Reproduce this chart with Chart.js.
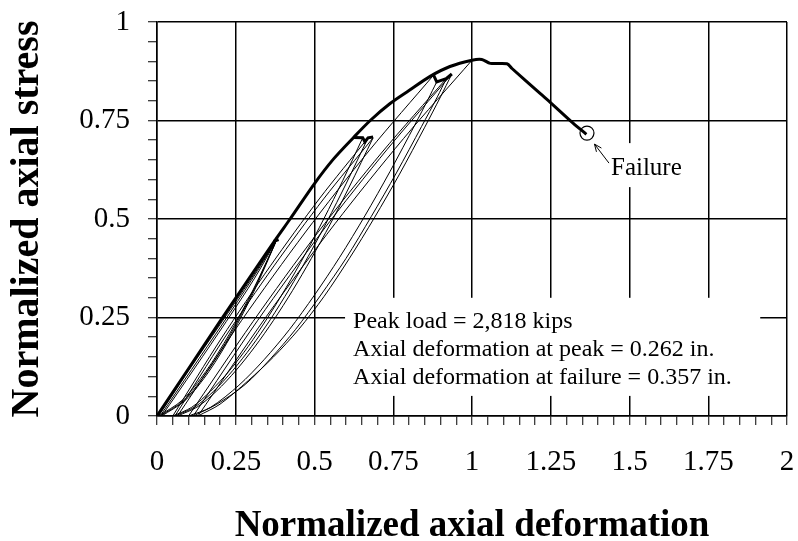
<!DOCTYPE html>
<html>
<head>
<meta charset="utf-8">
<script src="https://cdn.jsdelivr.net/npm/chart.js@4.4.1/dist/chart.umd.min.js"></script>
<style>
  html, body { margin: 0; padding: 0; background: #fff; }
  canvas { display: block; }
</style>
</head>
<body>
<canvas id="chart" width="798" height="541"></canvas>
<script>
// tick labels
const xTickLabels = ["0", "0.25", "0.5", "0.75", "1", "1.25", "1.5", "1.75", "2"];
const yTickLabels = ["0", "0.25", "0.5", "0.75", "1"];

// monotonic envelope (thick line), [deformation, stress]
const envelope = [
  [0, 0], [0.1, 0.12], [0.2, 0.24], [0.3, 0.358], [0.38, 0.452], [0.4225, 0.5],
  [0.5, 0.59], [0.56, 0.652], [0.624, 0.707], [0.677, 0.75], [0.74, 0.793],
  [0.8, 0.826], [0.867, 0.862], [0.93, 0.887], [1.0, 0.903], [1.031, 0.905],
  [1.058, 0.895], [1.111, 0.894], [1.127, 0.882], [1.217, 0.818], [1.25, 0.795],
  [1.32, 0.744], [1.363, 0.715]
];

// small jogs at the unloading points
const notchA = [[0.37, 0.443], [0.386, 0.448]];
const notchB = [[0.624, 0.707], [0.653, 0.706], [0.66, 0.696], [0.67, 0.706], [0.686, 0.708]];
const notchC = [[0.878, 0.865], [0.888, 0.848], [0.918, 0.856], [0.936, 0.868]];

// cycles at about 0.45
const unloadA1 = [[0.38, 0.447], [0.305, 0.32], [0.23, 0.208], [0.155, 0.113], [0.08, 0.04], [0.005, 0]];
const reloadA1 = [[0.005, 0], [0.1, 0.115], [0.2, 0.232], [0.3, 0.35], [0.38, 0.447]];
const unloadA2 = [[0.38, 0.447], [0.307, 0.32], [0.234, 0.208], [0.16, 0.113], [0.086, 0.04], [0.01, 0]];
const reloadA2 = [[0.01, 0], [0.11, 0.118], [0.21, 0.236], [0.3, 0.345], [0.38, 0.447]];
const unloadA3 = [[0.38, 0.447], [0.31, 0.32], [0.238, 0.208], [0.165, 0.113], [0.09, 0.04], [0.015, 0]];
const reloadA3 = [[0.015, 0], [0.12, 0.122], [0.22, 0.24], [0.31, 0.35], [0.38, 0.447]];

// cycles at about 0.70
const unloadB1 = [[0.653, 0.706], [0.59, 0.598], [0.53, 0.501], [0.47, 0.41], [0.41, 0.326], [0.35, 0.248],
  [0.29, 0.177], [0.23, 0.115], [0.17, 0.063], [0.11, 0.022], [0.05, 0]];
const reloadB1 = [[0.05, 0], [0.205, 0.198], [0.36, 0.381], [0.515, 0.551], [0.67, 0.706]];
const unloadB2 = [[0.67, 0.706], [0.6, 0.589], [0.54, 0.494], [0.48, 0.405], [0.42, 0.322], [0.36, 0.245],
  [0.3, 0.176], [0.24, 0.115], [0.18, 0.063], [0.12, 0.023], [0.057, 0]];
const reloadB2 = [[0.057, 0], [0.214, 0.198], [0.3715, 0.381], [0.529, 0.551], [0.686, 0.706]];
const unloadB3 = [[0.686, 0.706], [0.61, 0.581], [0.55, 0.487], [0.49, 0.4], [0.43, 0.318], [0.37, 0.243],
  [0.31, 0.175], [0.25, 0.115], [0.19, 0.064], [0.13, 0.024], [0.065, 0]];
const reloadB3 = [[0.065, 0], [0.268, 0.242], [0.4715, 0.467], [0.675, 0.675], [0.878, 0.865]];

// cycles at about 0.87
const unloadC1 = [[0.888, 0.848], [0.86, 0.803], [0.82, 0.741], [0.74, 0.621], [0.66, 0.508], [0.58, 0.403],
  [0.5, 0.307], [0.42, 0.219], [0.34, 0.143], [0.26, 0.078], [0.17, 0.022], [0.1, 0]];
const reloadC1 = [[0.1, 0], [0.305, 0.24], [0.51, 0.465], [0.715, 0.67], [0.918, 0.856]];
const unloadC2 = [[0.918, 0.856], [0.89, 0.81], [0.84, 0.735], [0.76, 0.617], [0.68, 0.506], [0.6, 0.4],
  [0.52, 0.307], [0.44, 0.22], [0.36, 0.145], [0.28, 0.08], [0.19, 0.03], [0.115, 0]];
const reloadC2 = [[0.115, 0], [0.32, 0.243], [0.525, 0.469], [0.731, 0.677], [0.936, 0.868]];
const unloadC3 = [[0.936, 0.868], [0.9, 0.81], [0.85, 0.733], [0.77, 0.614], [0.69, 0.503], [0.61, 0.399],
  [0.53, 0.303], [0.45, 0.22], [0.37, 0.15], [0.29, 0.09], [0.2, 0.03], [0.13, 0]];
const reloadC3 = [[0.13, 0], [0.3475, 0.253], [0.565, 0.488], [0.7825, 0.704], [1.0, 0.903]];

const failurePoint = [[1.365, 0.718]];

const noteLines = [
  "Peak load = 2,818 kips",
  "Axial deformation at peak = 0.262 in.",
  "Axial deformation at failure = 0.357 in."
];

const SERIF = "'Liberation Serif', 'Times New Roman', serif";

const toXY = arr => arr.map(p => ({ x: p[0], y: p[1] }));
const isMajor = v => Math.abs(v / 0.25 - Math.round(v / 0.25)) < 1e-6;

const thinCycles = [
  unloadA1, reloadA1, unloadA2, reloadA2, unloadA3, reloadA3,
  unloadB1, reloadB1, unloadB2, reloadB2, unloadB3, reloadB3,
  unloadC1, reloadC1, unloadC2, reloadC2, unloadC3, reloadC3
];

const datasets = thinCycles.map(c => ({
  data: toXY(c), showLine: true, borderColor: "#000", borderWidth: 1,
  pointRadius: 0, tension: 0.3, fill: false
}));
datasets.push({ data: toXY(envelope), showLine: true, borderColor: "#000", borderWidth: 3,
  pointRadius: 0, tension: 0.3, fill: false });
[notchA, notchB, notchC].forEach(n => datasets.push({
  data: toXY(n), showLine: true, borderColor: "#000", borderWidth: 3, pointRadius: 0, tension: 0
}));
datasets.push({ data: toXY(failurePoint), showLine: false, pointRadius: 7, pointStyle: "circle",
  borderColor: "#000", borderWidth: 1.2, backgroundColor: "rgba(0,0,0,0)" });

const whiteBg = {
  id: "whiteBg",
  beforeDraw(chart) {
    const ctx = chart.ctx;
    ctx.save();
    ctx.fillStyle = "#fff";
    ctx.fillRect(0, 0, chart.width, chart.height);
    ctx.restore();
  }
};

const notes = {
  id: "notes",
  beforeDatasetsDraw(chart) {
    const ctx = chart.ctx;
    const xs = chart.scales.x, ys = chart.scales.y;
    ctx.save();
    // text box covering the grid
    const bx0 = xs.getPixelForValue(0.597), bx1 = xs.getPixelForValue(1.915);
    const by0 = ys.getPixelForValue(0.30), by1 = ys.getPixelForValue(0.051);
    ctx.fillStyle = "#fff";
    ctx.fillRect(bx0, by0, bx1 - bx0, by1 - by0);
    ctx.fillStyle = "#000";
    ctx.font = "24px " + SERIF;
    ctx.textBaseline = "alphabetic";
    ctx.textAlign = "left";
    noteLines.forEach((t, i) => ctx.fillText(t, bx0 + 8, by0 + 30 + i * 28.3));

    // failure label
    const fx = xs.getPixelForValue(failurePoint[0][0]);
    const fy = ys.getPixelForValue(failurePoint[0][1]);
    ctx.fillStyle = "#fff";
    ctx.fillRect(fx + 22, fy + 10, 80, 44);
    ctx.fillStyle = "#000";
    ctx.font = "25px " + SERIF;
    ctx.fillText("Failure", fx + 24, fy + 42);
    // arrow
    const tx = fx + 7.5, ty = fy + 11, sx = fx + 22, sy = fy + 30;
    ctx.strokeStyle = "#000";
    ctx.lineWidth = 1;
    ctx.beginPath();
    ctx.moveTo(sx, sy);
    ctx.lineTo(tx, ty);
    const ang = Math.atan2(ty - sy, tx - sx);
    ctx.moveTo(tx, ty);
    ctx.lineTo(tx - 8 * Math.cos(ang - 0.4), ty - 8 * Math.sin(ang - 0.4));
    ctx.moveTo(tx, ty);
    ctx.lineTo(tx - 8 * Math.cos(ang + 0.4), ty - 8 * Math.sin(ang + 0.4));
    ctx.stroke();
    ctx.restore();
  }
};

// fixed box sizes so the plot area sits where the original one does
function fixX(s) {
  s.height = 125;
  s.paddingLeft = 0; s.paddingRight = 0; s.paddingTop = 0; s.paddingBottom = 0;
}
function fixY(s) {
  s.width = 157;
  s.paddingLeft = 0; s.paddingRight = 0; s.paddingTop = 0; s.paddingBottom = 0;
}

new Chart(document.getElementById("chart"), {
  type: "scatter",
  data: { datasets },
  options: {
    responsive: false,
    animation: false,
    devicePixelRatio: 1,
    layout: { padding: { top: 22, right: 11, left: 0, bottom: 0 } },
    plugins: { legend: { display: false }, tooltip: { enabled: false } },
    scales: {
      x: {
        type: "linear", min: 0, max: 2,
        afterFit: fixX,
        ticks: {
          stepSize: 0.05, autoSkip: false, maxRotation: 0, padding: 20, color: "#000",
          font: { family: SERIF, size: 29 },
          callback: v => isMajor(v) ? xTickLabels[Math.round(v / 0.25)] : ""
        },
        grid: {
          color: c => isMajor(c.tick.value) ? "#000" : "rgba(0,0,0,0)",
          lineWidth: 1.5, tickColor: "#000", tickLength: 9, tickWidth: 1
        },
        border: { display: true, color: "#000", width: 1.5 },
        title: {
          display: true, text: "Normalized axial deformation", color: "#000",
          font: { family: SERIF, size: 37, weight: "bold", lineHeight: 1 },
          padding: { top: 0, bottom: -4 }
        }
      },
      y: {
        type: "linear", min: 0, max: 1,
        afterFit: fixY,
        ticks: {
          stepSize: 0.05, autoSkip: false, padding: 18, color: "#000",
          font: { family: SERIF, size: 29 },
          callback: v => isMajor(v) ? yTickLabels[Math.round(v / 0.25)] : ""
        },
        grid: {
          color: c => isMajor(c.tick.value) ? "#000" : "rgba(0,0,0,0)",
          lineWidth: 1.5, tickColor: "#000", tickLength: 9, tickWidth: 1
        },
        border: { display: true, color: "#000", width: 1.5 },
        title: {
          display: true, text: "Normalized axial stress", color: "#000",
          font: { family: SERIF, size: 40, weight: "bold", lineHeight: 1 },
          padding: { top: 8, bottom: 0 }
        }
      }
    }
  },
  plugins: [whiteBg, notes]
});
</script>
</body>
</html>
